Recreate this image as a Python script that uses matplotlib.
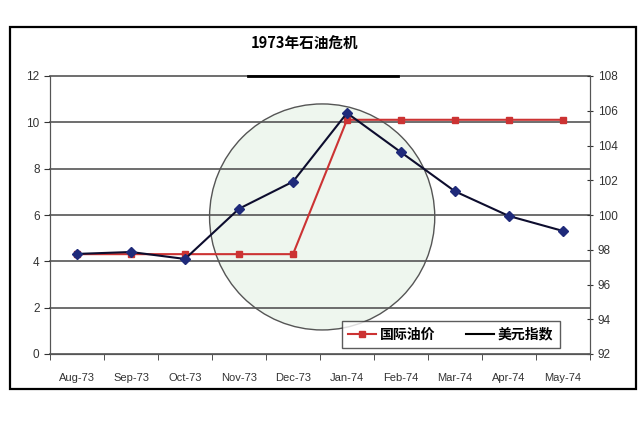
import matplotlib.pyplot as plt
from matplotlib.patches import Ellipse, Rectangle
from matplotlib.lines import Line2D

plt.rcParams['font.family'] = ['Liberation Sans', 'Noto Sans CJK SC', 'DejaVu Sans']

# data
months = ["Aug-73", "Sep-73", "Oct-73", "Nov-73", "Dec-73",
          "Jan-74", "Feb-74", "Mar-74", "Apr-74", "May-74"]
oil_price = [4.31, 4.31, 4.31, 4.31, 4.31, 10.11, 10.11, 10.11, 10.11, 10.11]
dollar_index = [97.76, 97.87, 97.47, 100.36, 101.92, 105.87, 103.61, 101.36, 99.94, 99.08]

fig = plt.figure(figsize=(6.4, 4.22), dpi=100)

# outer frame around the whole chart
fig.patches.append(Rectangle((10 / 640, 1 - 389 / 422), 626 / 640, 362 / 422,
                             transform=fig.transFigure, fill=False,
                             edgecolor="black", linewidth=1.6))

ax = fig.add_axes([50 / 640, 1 - 354 / 422, 540 / 640, 278 / 422])
ax2 = ax.twinx()

x = list(range(len(months)))

# highlight ellipse
ax.add_patch(Ellipse((0.504, 0.493), 0.417, 0.813, transform=ax.transAxes,
                     facecolor="#eef6ee", edgecolor="#555555", linewidth=1.0, zorder=0.2))

ax.plot(x, oil_price, color="#cc3333", marker="s", markersize=4, linewidth=1.5,
        zorder=3)
ax2.plot(x, dollar_index, color="#0d0d2e", marker="D", markersize=5,
         markerfacecolor="#1f2a7a", markeredgecolor="#1f2a7a", linewidth=1.5, zorder=3)

ax.set_xlim(-0.5, len(months) - 0.5)
ax.set_ylim(0, 12)
ax.set_yticks(range(0, 13, 2))
ax2.set_ylim(92, 108)
ax2.set_yticks(range(92, 109, 2))

ax.set_xticks(x)
ax.set_xticklabels(months)
ax.set_xticks([i - 0.5 for i in range(len(months) + 1)], minor=True)
ax.tick_params(axis="x", which="major", length=0, pad=14, labelsize=8, labelcolor="#333333")
ax.tick_params(axis="x", which="minor", length=4, direction="out", color="#333333")
ax.tick_params(axis="y", length=4, labelsize=8.5, labelcolor="#333333", color="#333333")
ax2.tick_params(axis="y", length=4, labelsize=8.5, labelcolor="#333333", color="#333333",
                direction="inout")

ax.set_axisbelow(True)
ax.grid(axis="y", color="#555555", linewidth=1.2, clip_on=False)
ax.axhline(12, xmin=0.367, xmax=0.644, color="black", linewidth=2, zorder=2, clip_on=False)

for a in (ax, ax2):
    a.spines["top"].set_visible(False)
    for s in ("left", "right", "bottom"):
        a.spines[s].set_color("#555555")
ax.set_facecolor("none")

fig.text(305 / 640, 1 - 44 / 422, "1973年石油危机", ha="center", va="center",
         fontsize=10.5, fontweight="bold", family=["Noto Sans CJK SC", "DejaVu Sans"])

handles = [Line2D([], [], color="#cc3333", marker="s", markersize=4, linewidth=1.5),
           Line2D([], [], color="black", linewidth=1.5)]
leg = ax.legend(handles, ["国际油价", "美元指数"], loc="lower right",
                bbox_to_anchor=(0.944, 0.022), borderaxespad=0, ncol=2, frameon=True,
                fancybox=False, handlelength=2, handletextpad=0.3, columnspacing=2.2,
                borderpad=0.45, prop={"family": ["Noto Sans CJK SC"], "weight": "bold", "size": 10})
leg.get_frame().set_edgecolor("#333333")
leg.get_frame().set_linewidth(1.0)
leg.set_zorder(5)

fig.savefig("out.png", dpi=100)
